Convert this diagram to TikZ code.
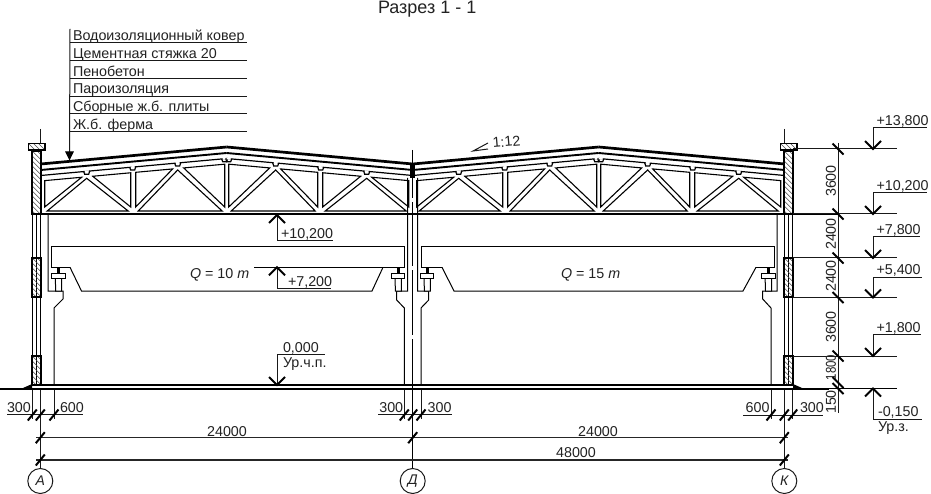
\documentclass[tikz,border=0pt]{standalone}
\usepackage{fontspec}
\setmainfont{Liberation Sans}
\definecolor{ink}{HTML}{222222}
\newcommand{\truss}[2]{%
  \begin{scope}[shift={(#1,0)},xscale=#2]
    \draw[roofone] (0,164) -- (186,{164-.0914*186});
    \draw[rooftwo] (0,170) -- (186,{170-.0914*186});
    \draw[rooftri] (0,{lt(0)}) -- (186,{lt(186)});
    \foreach \a/\m/\b in {4/46/90,95/137/184}{
      \draw[panel] (\a,{ty(\a)}) -- ({\m-5},{ty(\m-5)}) -- (\a,207) -- cycle;
      \draw[panel] (\m,{ty(\m)+1.5}) -- ({\a+2.5},211) -- ({\b-2.5},211) -- cycle;
      \draw[panel] ({\m+6},{ty(\m+6)}) -- (\b,{ty(\b)}) -- (\b,207) -- cycle;
    }
    \foreach \n in {46,92,137,184}{
      \draw[white,line width=1.8pt] ({\n-2},{lt(\n-2)}) -- ({\n+2},{lt(\n+2)});
      \draw[rooftri] ({\n-3},{lt(\n-3)}) -- ({\n-2},{lt(\n)+3}) -- ({\n+2},{lt(\n)+3}) -- ({\n+3},{lt(\n+3)});
    }
  \end{scope}}
\newcommand{\hatchblock}[4]{%
  \begin{scope}
    \clip (#1,#2) rectangle (#3,#4);
    \pgfmathsetmacro{\hs}{#2-10}
    \pgfmathsetmacro{\hn}{#2-10+5}
    \foreach \i in {\hs,\hn,...,#4}{
      \draw[hatchline] (#1,\i) -- (#3,{\i+#3-#1});
    }
  \end{scope}
  \draw[wallframe] (#1,#2) rectangle (#3,#4);}
\newcommand{\rail}[1]{%
  \fill[black] ({#1-1.7},268) rectangle ({#1+1.7},273);
  \draw[cranepart,fill=white] ({#1-3.2},278) -- ({#1-2.8},291) -- ({#1+3.2},291) -- ({#1+3.2},278);
  \draw[cranepart,fill=white] ({#1-6.7},273.3) rectangle ({#1+6.7},278);}
\newcommand{\tickf}[2]{\draw[tickmark] ({#1-4.5},{#2+5.5}) -- ({#1+4.5},{#2-5.5});}
\newcommand{\tickb}[2]{\draw[tickmark] (838-5.5,{#1-5.5}) -- (838+5.5,{#1+5.5});}
\newcommand{\levmark}[4]{% tip y, stem y, end x, arm dir
  \draw[thinline] (873,#1) -- (873,#2) -- (#3,#2);
  \draw[arrowv] (865,{#1+#4*8}) -- (873,#1) -- (881,{#1+#4*8});}
\newcommand{\inmark}[4]{% tip y, stem y, end x, arm dir
  \draw[thinline] (277,#1) -- (277,#2) -- (#3,#2);
  \draw[arrowv] (269,{#1+#4*8}) -- (277,#1) -- (285,{#1+#4*8});}
\tikzset{
  roofone/.style={line width=2.7pt,black},
  rooftwo/.style={line width=1.9pt,black},
  rooftri/.style={line width=1.2pt,black},
  panel/.style={line width=1.1pt,black,fill=white,line join=miter},
  hatchline/.style={line width=.5pt,black!70},
  wallframe/.style={line width=1.8pt,black},
  thinline/.style={line width=1pt,black!90},
  cranepart/.style={line width=1pt,black},
  tickmark/.style={line width=2pt,black},
  arrowv/.style={line width=2pt,black,line join=miter},
  lbl/.style={font=\fontsize{14.3}{14}\selectfont,text=ink,inner sep=0pt,outer sep=0pt,anchor=base west},
  lblc/.style={font=\fontsize{14.3}{14}\selectfont,text=ink,inner sep=0pt,outer sep=0pt,anchor=base},
  lblv/.style={font=\fontsize{14.3}{14}\selectfont,text=ink,inner sep=0pt,outer sep=0pt,rotate=90,anchor=center},
  axiscirc/.style={circle,draw=black!90,line width=1pt,minimum size=25pt,inner sep=0pt,font=\fontsize{14}{14}\selectfont\itshape,text=ink},
  declare function={ty(\v)=181-.0914*\v; lt(\v)=175.5-.0914*\v;}
}
\begin{document}
\begin{tikzpicture}[x=1pt,y=-1pt]
\useasboundingbox (0,0) rectangle (931,494);
\fill[white] (0,0) rectangle (931,494);

% title and material list
\node[lbl,font=\fontsize{18}{18}\selectfont] (title) at (378,13.5) {Разрез 1 - 1};
\coordinate (listtop) at (70,29);
\coordinate (listtip) at (69.5,159);
\draw[thinline] (listtop) -- (listtip);
\draw[arrowv,line width=1.2pt,fill=black] (66,152) -- (listtip) -- (73,152) -- cycle;
\foreach \y in {43,61,79,96.5,114,132}{\draw[thinline] (70,\y) -- (247,\y);}
\node[lbl] (m1) at (73,40.5) {Водоизоляционный ковер};
\node[lbl] (m2) at (73,58.5) {Цементная стяжка 20};
\node[lbl] (m3) at (73,76.5) {Пенобетон};
\node[lbl] (m4) at (73,94) {Пароизоляция};
\node[lbl] (m5) at (73,111.5) {Сборные ж.б. плиты};
\node[lbl] (m6) at (73,129.5) {Ж.б. ферма};

% slope
\draw[thinline] (488,143) -- (473,151) -- (488,149);
\node[lbl,rotate=5] (slope) at (493,148) {1:12};

% level line at the bottom chord
\draw[line width=1.1pt,black] (32,214) -- (838,214);

% trusses
\truss{40.7}{1}
\truss{412.7}{-1}
\truss{412.7}{1}
\truss{784.7}{-1}
\fill[black] (410.2,164) -- (415.2,164) -- (415.2,178) -- (410.2,178) -- cycle;

% columns
\draw[cranepart] (48,214) -- (48,291) -- (63,291) -- (63,299) -- (54,308) -- (54,385);
\draw[cranepart] (407.7,178) -- (407.7,291) -- (396.7,291) -- (396.7,300) -- (404.3,308) -- (404.3,385);
\draw[cranepart] (417.6,178) -- (417.6,291) -- (428.7,291) -- (428.7,300) -- (421,308) -- (421,385);
\draw[cranepart] (777,214) -- (777,291) -- (762.7,291) -- (762.7,299) -- (771,308) -- (771,385);

% wall ribbon lines
\foreach \x in {32.3,36.7,40.7,784.3,788.4,792.7}{\draw[cranepart] (\x,214) -- (\x,385);}

% cranes
\draw[cranepart] (70,267.3) -- (51.7,267.3) -- (51.7,247) -- (404,247) -- (404,267.3) -- (254,267.3);
\draw[cranepart] (70,267.3) -- (81.5,291) -- (372,291) -- (383,267.3);
\draw[cranepart] (442,267.3) -- (421,267.3) -- (421,247) -- (774,247) -- (774,267.3) -- (756,267.3);
\draw[cranepart] (442,267.3) -- (454,291) -- (743,291) -- (756,267.3);
\rail{58.5}\rail{398.2}\rail{427.2}\rail{768.3}

% wall blocks and caps
\hatchblock{32.3}{151}{40.9}{214}
\hatchblock{32.3}{258}{40.9}{297}
\hatchblock{32.3}{356}{40.9}{385}
\hatchblock{784.3}{151}{792.9}{214}
\hatchblock{784.3}{258}{792.9}{297}
\hatchblock{784.3}{356}{792.9}{385}
\fill[white] (28,143.5) rectangle (45,150);
\hatchblock{28.5}{143.5}{45}{150}
\fill[white] (780,143.5) rectangle (797,150);
\hatchblock{780.5}{143.5}{797}{150}

% floor and ground
\fill[black] (23,388) -- (32,384) -- (32,388) -- cycle;
\fill[black] (802,388) -- (793,384) -- (793,388) -- cycle;
\draw[line width=2.4pt,black] (32,384.8) -- (793,384.8);
\draw[line width=2.8pt,black] (0,389) -- (829,389);
\draw[line width=1pt,black] (829,388.5) -- (897,388.5);

% axes
\node[axiscirc] (axA) at (40.3,481) {А};
\node[axiscirc] (axD) at (412.7,481) {Д};
\node[axiscirc] (axK) at (784.3,481) {К};
\coordinate (topA) at (40.3,129);
\coordinate (topD) at (412.7,150);
\coordinate (topK) at (784.3,129);
\coordinate (capA) at (40.3,143);
\coordinate (capK) at (784.3,143);
\coordinate (flA) at (40.3,390);
\coordinate (flK) at (784.3,390);
\draw[thinline] (topA) -- (capA);
\draw[thinline] (topK) -- (capK);
\draw[thinline] (flA) -- (axA);
\draw[thinline] (flK) -- (axK);
\draw[line width=1.1pt,black] (topD) -- (axD);
\foreach \y in {200,268,337}{\fill[white] (411.5,{\y-2}) rectangle (414,{\y+2});}

% extension lines
\foreach \x in {32.3,54,404.3,421,771,792.7}{\draw[thinline] (\x,390) -- (\x,419);}

% horizontal dimensions
\draw[thinline] (7,414.5) -- (83,414.5);
\draw[thinline] (378,414.5) -- (452,414.5);
\draw[thinline] (743,415) -- (823,415);
\draw[line width=1.1pt,black!85] (36,437.7) -- (788,437.7);
\draw[line width=1.1pt,black!85] (36,460) -- (788,460);
\foreach \x in {32.3,40.3,54,404.3,412.7,421,771,784.3,792.7}{\tickf{\x}{415}}
\foreach \x in {40.3,412.7,784.3}{\tickf{\x}{437.7}}
\foreach \x in {40.3,784.3}{\tickf{\x}{460}}
\node[lbl] (d1) at (7,412) {300};
\node[lbl] (d2) at (60,412) {600};
\node[lbl] (d3) at (379.3,412) {300};
\node[lbl] (d4) at (427.7,412) {300};
\node[lbl] (d5) at (745.7,412) {600};
\node[lbl] (d6) at (800,412) {300};
\node[lblc] (d7) at (227,436) {24000};
\node[lblc] (d8) at (598,436) {24000};
\node[lblc] (d9) at (576,457) {48000};

% vertical dimension chain
\foreach \y in {149,214,258,297.5,356}{\draw[thinline] (793,\y) -- (897,\y);}
\draw[thinline] (838,143) -- (838,413);
\foreach \y in {149,214,258,297.5,356,382.5,388.5}{\tickb{\y}}
\node[lblv] (v1) at (831,181) {3600};
\node[lblv] (v2) at (831,234) {2400};
\node[lblv] (v3) at (831,276) {2400};
\node[lblv] (v4) at (831,327) {3600};
\node[lblv] (v5) at (831,367.5) {\scalebox{.8}[1]{1800}};
\node[lblv] (v6) at (831,402) {150};

% levels right
\levmark{149}{128}{927}{-1}
\levmark{214}{193}{927}{-1}
\levmark{258}{237}{920}{-1}
\levmark{297.5}{277}{922}{-1}
\levmark{356}{334}{921}{-1}
\levmark{388.5}{419}{922}{1}
\node[lbl] (l1) at (876.5,125.5) {+13,800};
\node[lbl] (l2) at (876.5,191) {+10,200};
\node[lbl] (l3) at (876.5,235) {+7,800};
\node[lbl] (l4) at (876.5,274.5) {+5,400};
\node[lbl] (l5) at (876.5,332.5) {+1,800};
\node[lbl] (l6) at (878,416.5) {-0,150};
\node[lbl] (l7) at (878,431.5) {Ур.з.};

% levels inside
\inmark{215}{241}{333}{1}
\inmark{267.3}{288}{331}{1}
\inmark{385}{354}{325}{-1}
\node[lbl] (i1) at (281,239) {+10,200};
\node[lbl] (i2) at (288,286) {+7,200};
\node[lbl] (i3) at (283,352) {0,000};
\node[lbl] (i4) at (283,367) {Ур.ч.п.};

% capacities
\node[lbl] (q1) at (190,278) {\textit{Q} = 10 \textit{т}};
\node[lbl] (q2) at (561,279) {\textit{Q} = 15 \textit{т}};
\end{tikzpicture}
\end{document}
